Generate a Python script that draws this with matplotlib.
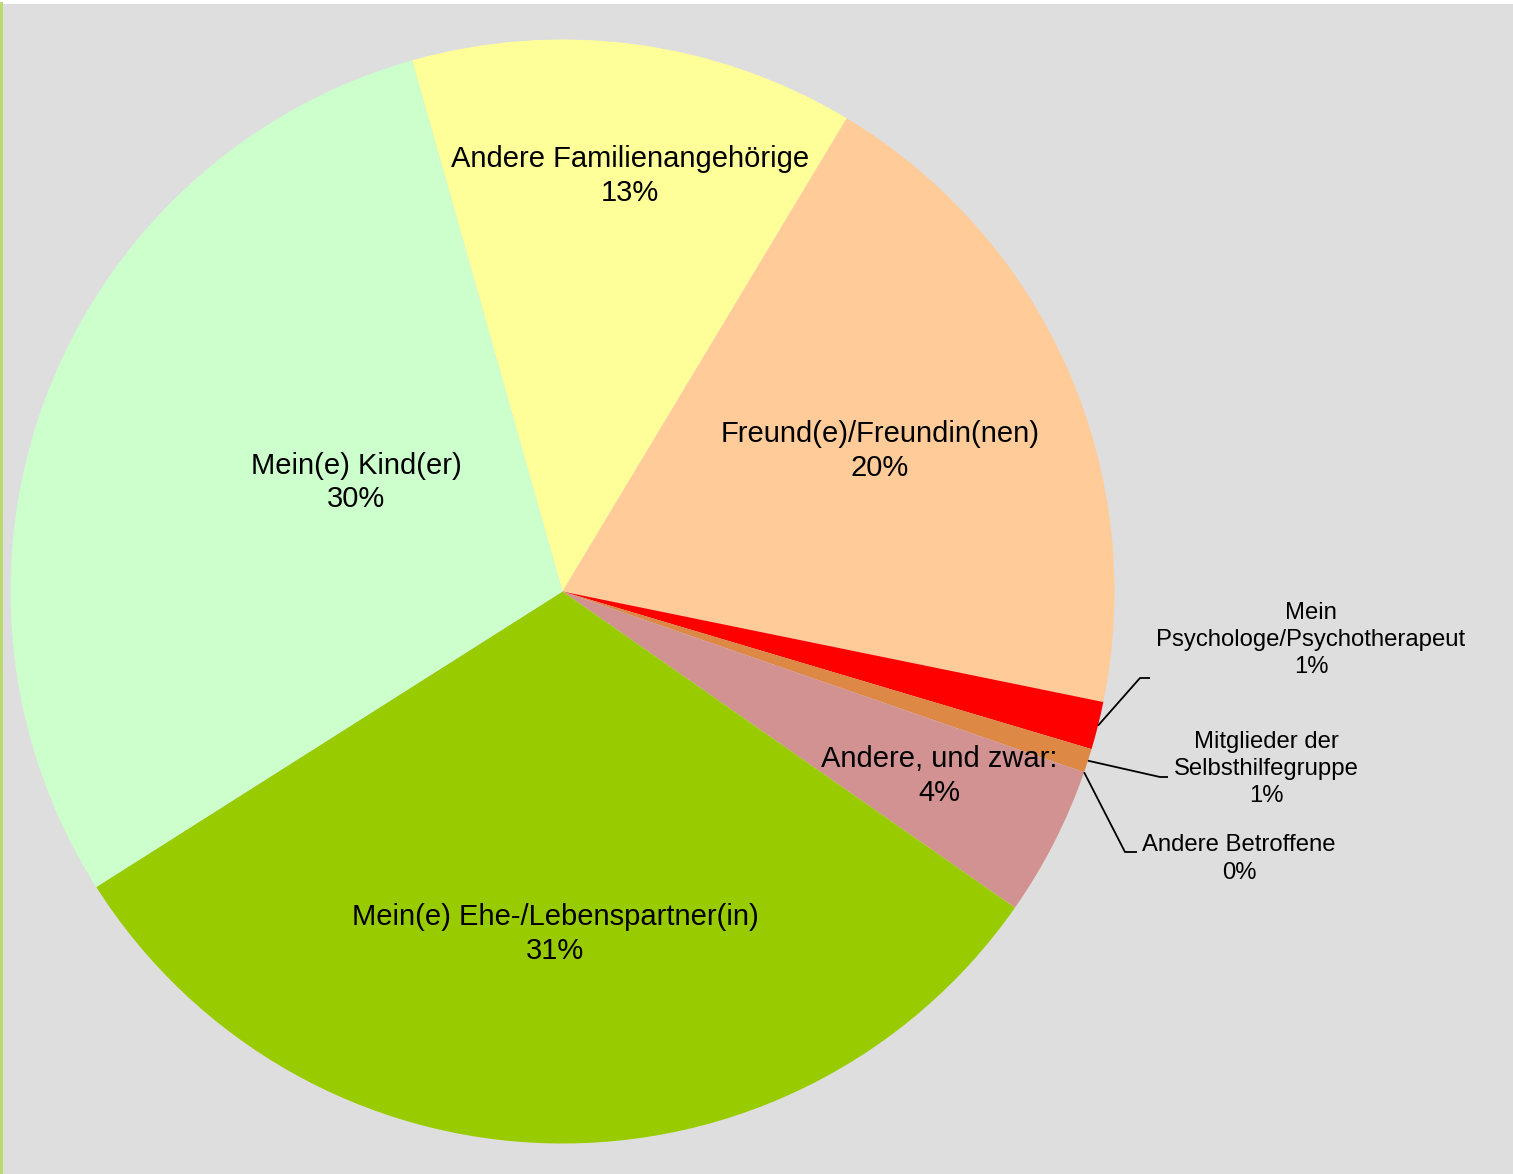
import matplotlib
matplotlib.use("Agg")
import numpy as np
import matplotlib.pyplot as plt
from matplotlib.patches import Rectangle

# Who the respondents talk to (share of answers, %)
categories = [
    "Andere Familienangehörige",
    "Freund(e)/Freundin(nen)",
    "Mein\nPsychologe/Psychotherapeut",
    "Mitglieder der\nSelbsthilfegruppe",
    "Andere Betroffene",
    "Andere, und zwar:",
    "Mein(e) Ehe-/Lebenspartner(in)",
    "Mein(e) Kind(er)",
]
shares = [13.0, 19.6, 1.4, 0.7, 0.0, 4.4, 31.3, 29.6]
colors = ["#FFFF99", "#FFCC99", "#FF0000", "#DD8844", "#9999FF",
          "#D39292", "#99CC00", "#CCFFCC"]

W, H = 1513, 1174
FONT = "Liberation Sans"

fig = plt.figure(figsize=(W / 100, H / 100), dpi=100)
fig.patch.set_facecolor("white")
ax = fig.add_axes([0, 0, 1, 1])

cx, cy, R = 562.5, H - 591.5, 552

wedges, _ = ax.pie(shares, colors=colors, startangle=105.81, counterclock=False,
                   center=(cx, cy), radius=R,
                   wedgeprops=dict(linewidth=0, zorder=2))

ax.set_xlim(0, W)
ax.set_ylim(0, H)
ax.set_aspect("equal")
ax.axis("off")

# chart area background and left border
ax.add_patch(Rectangle((0, 0), W, H - 4, facecolor="#DEDEDE", edgecolor="none", zorder=0))
ax.add_patch(Rectangle((0, 0), 2.5, H - 2, facecolor="#BCDA6E", edgecolor="none", zorder=1))

total = sum(shares)
pct = [f"{round(v / total * 100):.0f}%" for v in shares]
mids = [(w.theta1 + w.theta2) / 2 for w in wedges]

# labels inside the large wedges: (index, radial fraction, angle shift in degrees)
inside = [(0, 0.762, -1.6), (1, 0.629, 0.1), (5, 0.760, 0.9),
          (6, 0.621, 0.1), (7, 0.423, -6.9)]
for i, rf, dth in inside:
    a = np.deg2rad(mids[i] + dth)
    ax.text(cx + rf * R * np.cos(a), cy + rf * R * np.sin(a),
            f"{categories[i]}\n{pct[i]}", ha="center", va="center",
            fontsize=21, family=FONT, color="black", zorder=5, linespacing=1.26)

# labels for the thin wedges with leader lines: (index, text xy, elbow xy, end xy)
outside = [
    (2, (1311, H - 640), (1140, H - 678), (1150, H - 678)),
    (3, (1266, H - 769), (1160, H - 777), (1168, H - 777)),
    (4, (1239, H - 859), (1125, H - 852), (1137, H - 852)),
]
for i, txy, exy, nxy in outside:
    a = np.deg2rad(mids[i])
    sx, sy = cx + R * np.cos(a), cy + R * np.sin(a)
    ax.plot([sx, exy[0], nxy[0]], [sy, exy[1], nxy[1]], color="black",
            lw=1.3, zorder=4, solid_capstyle="butt")
    ax.text(txy[0], txy[1], f"{categories[i]}\n{pct[i]}", ha="center", va="center",
            fontsize=17.2, family=FONT, color="black", zorder=5, linespacing=1.32)

fig.savefig("out.png", dpi=100, facecolor=fig.get_facecolor())
